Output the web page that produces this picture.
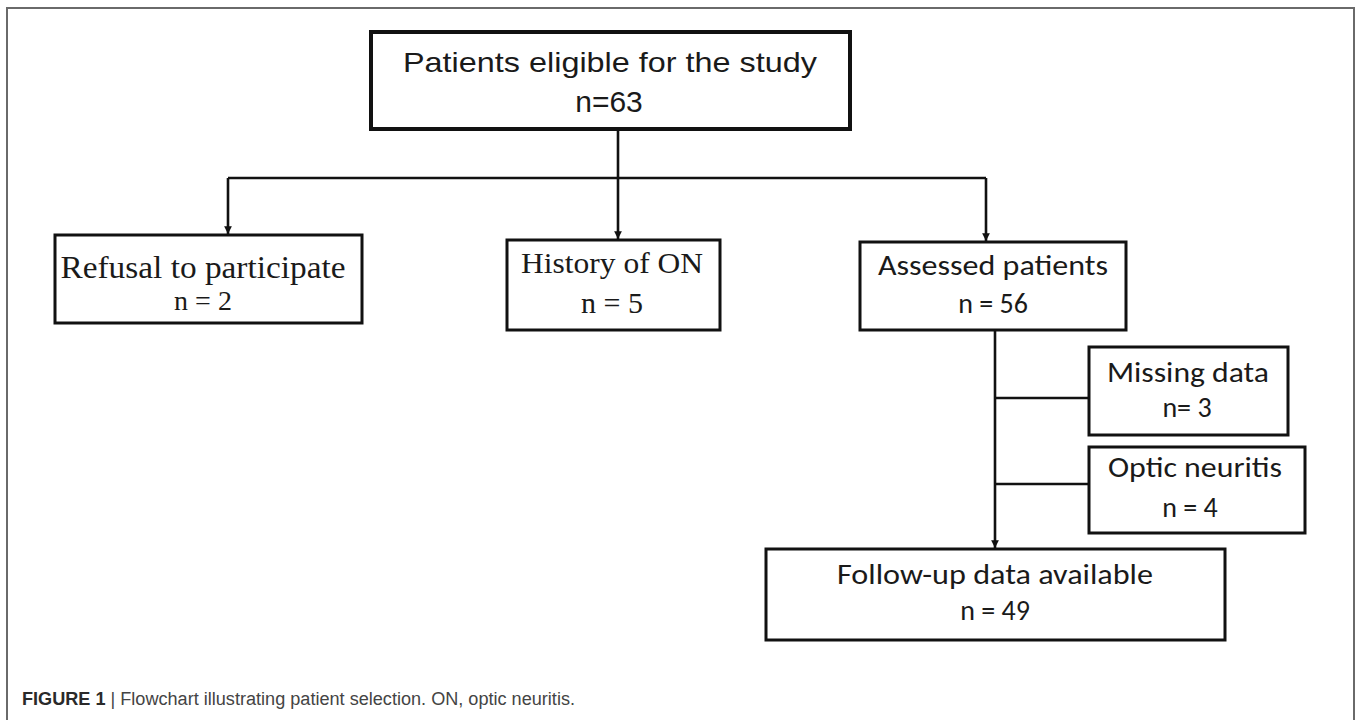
<!DOCTYPE html>
<html lang="en">
  <head>
    <meta charset="UTF-8" />
    <script src="https://d3js.org/d3.v7.min.js"></script>
    <title>Flowchart</title>
    <style>
      body { margin: 0; background: #fff; }
    </style>
  </head>
  <body>
    <div id="chart-01"></div>
    <script>
      // chart data
      var labels = [
        "Patients eligible for the study",
        "Refusal to participate",
        "History of ON",
        "Assessed patients",
        "Missing data",
        "Optic neuritis",
        "Follow-up data available"
      ];
      var counts = [63, 2, 5, 56, 3, 4, 49];
      var countPrefix = ["n=", "n = ", "n = ", "n = ", "n= ", "n = ", "n = "];
      var captionBold = "FIGURE 1";
      var captionText = " | Flowchart illustrating patient selection. ON, optic neuritis.";

      // layout (pixels)
      var width = 1357,
        height = 720;

      var serif = "'Liberation Serif', 'Times New Roman', serif",
        arial = "'Liberation Sans', Arial, sans-serif",
        calibri = "Carlito, Calibri, Lato, sans-serif";

      var boxes = [
        { x0: 371, y0: 32, x1: 850, y1: 129, sw: 4, font: arial,
          l1: { cx: 610, y: 72, len: 414, size: 28 }, l2: { cx: 609, y: 112, size: 30 } },
        { x0: 55, y0: 235, x1: 362, y1: 323, sw: 3, font: serif,
          l1: { cx: 203, y: 278, len: 285, size: 31 }, l2: { cx: 203, y: 310, size: 28 } },
        { x0: 507, y0: 240, x1: 720, y1: 330, sw: 3, font: serif,
          l1: { cx: 612, y: 273, len: 182, size: 30 }, l2: { cx: 612, y: 313, size: 30 } },
        { x0: 860, y0: 242, x1: 1126, y1: 330, sw: 3, font: calibri,
          l1: { cx: 993, y: 275, len: 230, size: 28 }, l2: { cx: 993, y: 313, size: 28 } },
        { x0: 1089, y0: 347, x1: 1288, y1: 435, sw: 3, font: calibri,
          l1: { cx: 1188, y: 382, len: 162, size: 28 }, l2: { cx: 1187, y: 417, size: 28 } },
        { x0: 1089, y0: 447, x1: 1305, y1: 533, sw: 3, font: calibri,
          l1: { cx: 1195, y: 477, len: 174, size: 28 }, l2: { cx: 1190, y: 517, size: 28 } },
        { x0: 766, y0: 549, x1: 1225, y1: 640, sw: 3, font: calibri,
          l1: { cx: 995, y: 584, len: 316, size: 28 }, l2: { cx: 995, y: 620, size: 28 } }
      ];

      // connectors: [x1, y1, x2, y2, arrow]
      var links = [
        [618, 129, 618, 178, false],
        [228, 178, 986, 178, false],
        [228, 178, 228, 235, true],
        [618, 178, 618, 240, true],
        [986, 178, 986, 242, true],
        [995, 330, 995, 549, true],
        [995, 398, 1089, 398, false],
        [995, 484, 1089, 484, false]
      ];

      var svg = d3
        .select("#chart-01")
        .append("svg")
        .attr("width", width)
        .attr("height", height);

      svg.append("rect").attr("width", width).attr("height", height).attr("fill", "#fff");

      // outer frame
      svg
        .append("rect")
        .attr("x", 7)
        .attr("y", 8)
        .attr("width", 1347)
        .attr("height", 800)
        .attr("fill", "none")
        .attr("stroke", "#6a6a6a")
        .attr("stroke-width", 2);

      svg
        .append("defs")
        .append("marker")
        .attr("id", "arrow")
        .attr("viewBox", "0 0 10 10")
        .attr("refX", 10)
        .attr("refY", 5)
        .attr("markerWidth", 3)
        .attr("markerHeight", 3)
        .attr("markerUnits", "strokeWidth")
        .attr("orient", "auto")
        .append("path")
        .attr("d", "M0,0L10,5L0,10Z")
        .attr("fill", "#111");

      svg
        .selectAll("line.link")
        .data(links)
        .enter()
        .append("line")
        .attr("class", "link")
        .attr("x1", function (d) { return d[0]; })
        .attr("y1", function (d) { return d[1]; })
        .attr("x2", function (d) { return d[2]; })
        .attr("y2", function (d) { return d[4] ? d[3] - 1 : d[3]; })
        .attr("stroke", "#111")
        .attr("stroke-width", 2.6)
        .attr("marker-end", function (d) { return d[4] ? "url(#arrow)" : null; });

      var g = svg
        .selectAll("g.box")
        .data(boxes)
        .enter()
        .append("g")
        .attr("class", "box");

      g.append("rect")
        .attr("x", function (d) { return d.x0; })
        .attr("y", function (d) { return d.y0; })
        .attr("width", function (d) { return d.x1 - d.x0; })
        .attr("height", function (d) { return d.y1 - d.y0; })
        .attr("fill", "#fff")
        .attr("stroke", "#111")
        .attr("stroke-width", function (d) { return d.sw; });

      g.append("text")
        .attr("x", function (d) { return d.l1.cx; })
        .attr("y", function (d) { return d.l1.y; })
        .attr("text-anchor", "middle")
        .attr("font-family", function (d) { return d.font; })
        .attr("font-size", function (d) { return d.l1.size; })
        .attr("textLength", function (d) { return d.l1.len; })
        .attr("lengthAdjust", "spacingAndGlyphs")
        .attr("fill", "#1a1a1a")
        .text(function (d, i) { return labels[i]; });

      g.append("text")
        .attr("x", function (d) { return d.l2.cx; })
        .attr("y", function (d) { return d.l2.y; })
        .attr("text-anchor", "middle")
        .attr("font-family", function (d) { return d.font; })
        .attr("font-size", function (d) { return d.l2.size; })
        .attr("fill", "#1a1a1a")
        .text(function (d, i) { return countPrefix[i] + counts[i]; });

      // caption
      var cap = svg
        .append("text")
        .attr("x", 22)
        .attr("y", 705)
        .attr("font-family", "'Liberation Sans Narrow', 'Arial Narrow', 'Liberation Sans', sans-serif")
        .attr("font-size", 18)
        .attr("textLength", 553)
        .attr("lengthAdjust", "spacingAndGlyphs");
      cap.append("tspan").attr("font-weight", "bold").attr("fill", "#2a2a2a").text(captionBold);
      cap.append("tspan").attr("fill", "#444").text(captionText);
    </script>
  </body>
</html>
